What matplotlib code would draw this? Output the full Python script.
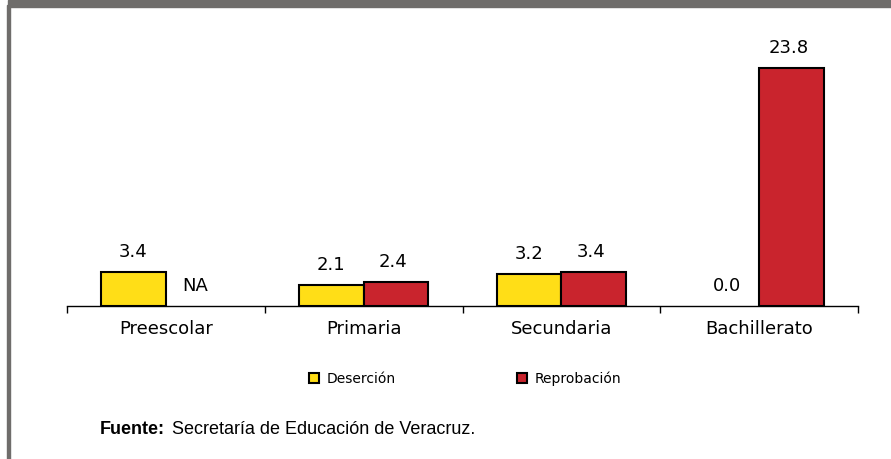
import matplotlib.pyplot as plt
from matplotlib.patches import Rectangle
from matplotlib.lines import Line2D
import numpy as np

niveles = ['Preescolar', 'Primaria', 'Secundaria', 'Bachillerato']
desercion = [3.4, 2.1, 3.2, 0.0]
reprobacion = [None, 2.4, 3.4, 23.8]   # None = NA
etiq_des = ['3.4', '2.1', '3.2', '0.0']
etiq_rep = ['NA', '2.4', '3.4', '23.8']

amarillo = '#FFDE17'
rojo = '#C9242D'
gris = '#6F6D6B'

W, H = 891, 459
fig = plt.figure(figsize=(W / 100, H / 100), dpi=100)

# marco gris (banda superior y borde izquierdo)
fig.patches.append(Rectangle((8 / W, 1 - 7 / H), 1 - 8 / W, 7 / H,
                             transform=fig.transFigure, color=gris, zorder=0))
fig.patches.append(Rectangle((7 / W, 0), 2.5 / W, 1 - 5 / H,
                             transform=fig.transFigure, color=gris, zorder=0))

ax = fig.add_axes([67 / W, (H - 306) / H, 791 / W, 266 / H])
x = np.arange(len(niveles))
bw = 0.328

for i in range(len(niveles)):
    d = desercion[i]
    r = reprobacion[i]
    if d > 0:
        ax.bar(x[i] - bw / 2, d, bw, color=amarillo, edgecolor='black', linewidth=1.5, zorder=2)
    ax.annotate(etiq_des[i], (x[i] - bw / 2, d), xytext=(0, 8), textcoords='offset points',
                ha='center', va='bottom', fontsize=13, family='DejaVu Sans')
    if r is not None and r > 0:
        ax.bar(x[i] + bw / 2, r, bw, color=rojo, edgecolor='black', linewidth=1.5, zorder=2)
    ax.annotate(etiq_rep[i], (x[i] + bw / 2, r if r is not None else 0), xytext=(-2, 8),
                textcoords='offset points', ha='center', va='bottom', fontsize=13,
                family='DejaVu Sans')

ax.set_xlim(-0.5, len(niveles) - 0.5)
ax.set_ylim(0, 26.6)
ax.set_yticks([])
for s in ['top', 'right', 'left']:
    ax.spines[s].set_visible(False)
ax.spines['bottom'].set_linewidth(1.0)
ax.set_xticks(x)
ax.set_xticklabels(niveles, fontsize=13, family='DejaVu Sans')
ax.tick_params(axis='x', which='major', length=0, pad=10)
ax.set_xticks(np.arange(len(niveles) + 1) - 0.5, minor=True)
ax.tick_params(axis='x', which='minor', length=5, width=1.0, direction='out')

handles = [Line2D([], [], marker='s', linestyle='none', markersize=6.5,
                  markerfacecolor=amarillo, markeredgecolor='black', markeredgewidth=1.5),
           Line2D([], [], marker='s', linestyle='none', markersize=6.5,
                  markerfacecolor=rojo, markeredgecolor='black', markeredgewidth=1.5)]
fig.legend(handles, ['Deserción', 'Reprobación'], loc='center', ncol=2,
           bbox_to_anchor=(465 / W, 1 - 379 / H), frameon=False,
           prop={'family': 'DejaVu Sans', 'size': 10},
           handlelength=0.8, handletextpad=0.5, columnspacing=8.66)

fig.text(100 / W, 1 - 430 / H, 'Fuente:', fontsize=13, fontweight='bold',
         family='Liberation Sans', va='center', ha='left')
fig.text(172 / W, 1 - 430 / H, 'Secretaría de Educación de Veracruz.', fontsize=13,
         family='Liberation Sans', va='center', ha='left')

fig.savefig('out.png', dpi=100)
